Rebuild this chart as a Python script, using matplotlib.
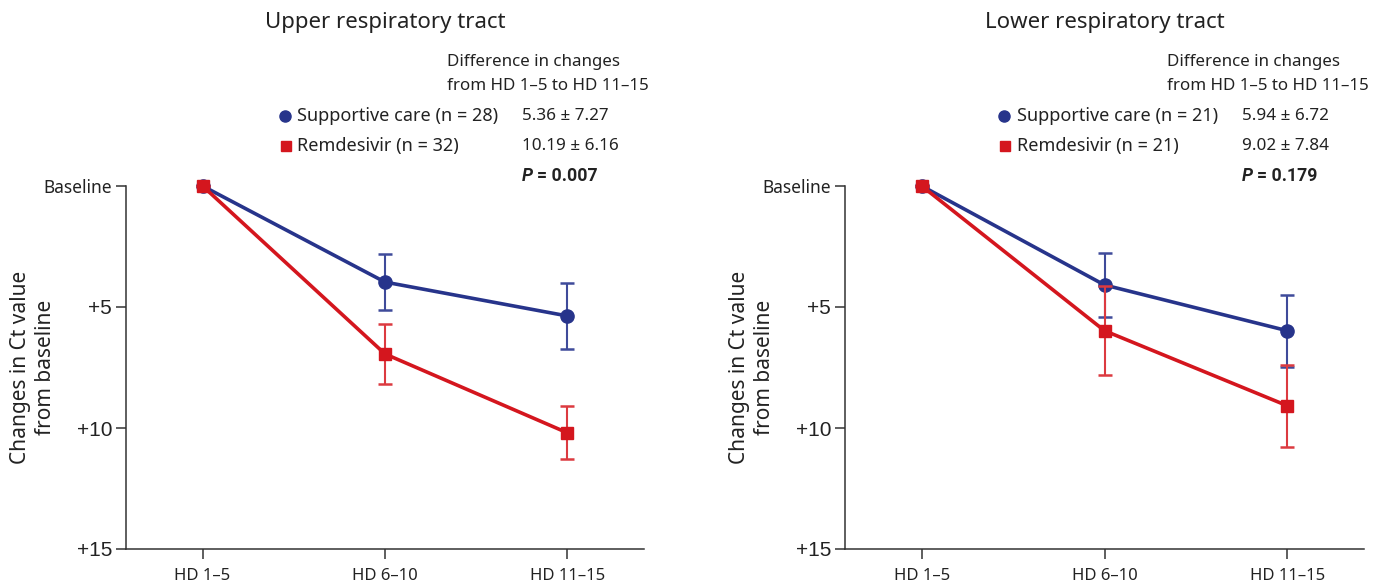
import matplotlib
matplotlib.use("Agg")
import matplotlib.pyplot as plt

categories = ["HD 1–5", "HD 6–10", "HD 11–15"]
ytick_vals = [0, 5, 10, 15]
ytick_labels = ["Baseline", "+5", "+10", "+15"]

titles = ["Upper respiratory tract", "Lower respiratory tract"]

# Upper respiratory tract
upper_sc_mean = [0, 3.97, 5.37]
upper_sc_err = [0, 1.15, 1.38]
upper_rd_mean = [0, 6.94, 10.2]
upper_rd_err = [0, 1.24, 1.1]
upper_sc_label = "Supportive care (n = 28)"
upper_rd_label = "Remdesivir (n = 32)"
upper_sc_diff = "5.36 ± 7.27"
upper_rd_diff = "10.19 ± 6.16"
upper_p = "0.007"

# Lower respiratory tract
lower_sc_mean = [0, 4.09, 5.98]
lower_sc_err = [0, 1.32, 1.48]
lower_rd_mean = [0, 5.98, 9.08]
lower_rd_err = [0, 1.83, 1.7]
lower_sc_label = "Supportive care (n = 21)"
lower_rd_label = "Remdesivir (n = 21)"
lower_sc_diff = "5.94 ± 6.72"
lower_rd_diff = "9.02 ± 7.84"
lower_p = "0.179"

BLUE = "#27348b"
RED = "#d4161e"
TXT = "#222222"
FONT = ["Noto Sans", "DejaVu Sans"]
BOLDFONT = ["Roboto", "Liberation Sans", "DejaVu Sans"]
plt.rcParams["font.family"] = FONT

fig = plt.figure(figsize=(13.76, 5.87), dpi=100)
W, H = 1376, 587
panels = [
    dict(l=126, r=644, sc=upper_sc_mean, sce=upper_sc_err, rd=upper_rd_mean, rde=upper_rd_err,
         scl=upper_sc_label, rdl=upper_rd_label, scd=upper_sc_diff, rdd=upper_rd_diff, p=upper_p, t=titles[0]),
    dict(l=845, r=1364, sc=lower_sc_mean, sce=lower_sc_err, rd=lower_rd_mean, rde=lower_rd_err,
         scl=lower_sc_label, rdl=lower_rd_label, scd=lower_sc_diff, rdd=lower_rd_diff, p=lower_p, t=titles[1]),
]
top, bot = 186, 549

for pn in panels:
    ax = fig.add_axes([pn["l"] / W, 1 - bot / H, (pn["r"] - pn["l"]) / W, (bot - top) / H])
    x = list(range(len(categories)))
    ax.errorbar(x, pn["sc"], yerr=pn["sce"], color=BLUE, lw=2.6, marker="o", ms=9.5,
                ecolor="#3f4b9a", elinewidth=1.5, capsize=5, capthick=1.8, clip_on=False, zorder=3)
    ax.errorbar(x, pn["rd"], yerr=pn["rde"], color=RED, lw=2.6, marker="s", ms=8,
                ecolor="#dc3a40", elinewidth=1.5, capsize=5, capthick=1.8, clip_on=False, zorder=4)
    for line in ax.lines + [c for c in ax.collections]:
        line.set_clip_on(False)
    ax.set_xlim(-0.42, 2.42)
    ax.set_ylim(15, 0)
    ax.set_xticks(x)
    ax.set_xticklabels(categories, fontsize=12, color=TXT)
    ax.set_yticks(ytick_vals)
    ax.set_yticklabels(ytick_labels, color=TXT)
    for i, lab in enumerate(ax.get_yticklabels()):
        if i == 0:
            lab.set_fontsize(12.5)
            lab.set_family(FONT)
        else:
            lab.set_fontsize(15)
            lab.set_family(["Liberation Sans", "DejaVu Sans"])
    ax.spines["top"].set_visible(False)
    ax.spines["right"].set_visible(False)
    for s in ["left", "bottom"]:
        ax.spines[s].set_color("#333333")
        ax.spines[s].set_linewidth(1.1)
    ax.tick_params(axis="both", direction="out", length=7, width=1.1, color="#333333")
    ax.tick_params(axis="y", pad=3)
    ax.tick_params(axis="x", pad=7)
    fig.text((pn["l"] - 93) / W, 1 - 367 / H, "Changes in Ct value\nfrom baseline",
             rotation=90, ha="center", va="center", fontsize=15, color=TXT, linespacing=1.25,
             multialignment="center")

    # title and annotation block (data x positions, y in data units above baseline)
    ax.text(1, -6.75, pn["t"], ha="center", va="center", fontsize=16, color=TXT, clip_on=False)
    ax.text(1.34, -5.12, "Difference in changes", ha="left", va="center", fontsize=12.2, color=TXT)
    ax.text(1.34, -4.13, "from HD 1–5 to HD 11–15", ha="left", va="center", fontsize=12.2, color=TXT)
    ax.plot([0.45], [-2.89], marker="o", color=BLUE, ms=8, clip_on=False, ls="none")
    ax.plot([0.455], [-1.65], marker="s", color=RED, ms=7, clip_on=False, ls="none")
    ax.text(0.52, -2.89, pn["scl"], ha="left", va="center", fontsize=13, color=TXT)
    ax.text(0.52, -1.65, pn["rdl"], ha="left", va="center", fontsize=13, color=TXT)
    ax.text(1.75, -2.89, pn["scd"], ha="left", va="center", fontsize=12.3, color=TXT)
    ax.text(1.75, -1.65, pn["rdd"], ha="left", va="center", fontsize=12.3, color=TXT)
    ax.text(1.75, -0.41, "P", ha="left", va="center", fontsize=12.7, color=TXT,
            fontweight="bold", fontstyle="italic", family=BOLDFONT)
    ax.annotate("= " + pn["p"], xy=(1.75, -0.41), xytext=(11, 0), textcoords="offset points",
                ha="left", va="center", fontsize=12.7, color=TXT, fontweight="bold",
                family=BOLDFONT, annotation_clip=False)

fig.savefig("out.png", dpi=100)
